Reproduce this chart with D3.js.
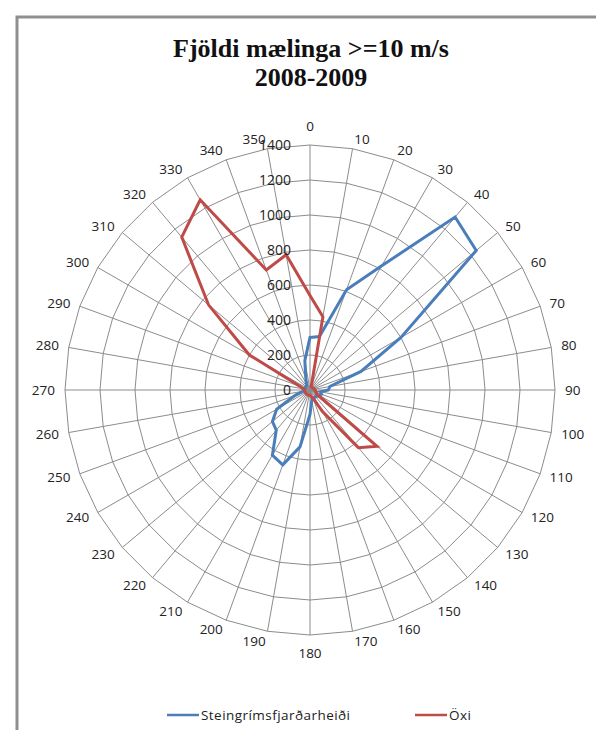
<!DOCTYPE html>
<html>
<head>
<meta charset="utf-8">
<script src="https://cdn.jsdelivr.net/npm/d3@7"></script>
<style>
  html, body { margin: 0; padding: 0; background: #fff; }
  svg { display: block; }
</style>
</head>
<body>
<svg id="chart" width="596" height="730"></svg>
<script>
// ---- data ----
const titleLines = ["Fjöldi mælinga >=10 m/s", "2008-2009"];
const directions = [0,10,20,30,40,50,60,70,80,90,100,110,120,130,140,150,160,170,
                    180,190,200,210,220,230,240,250,260,270,280,290,300,310,320,330,340,350];
const steingrimsValues = [300,310,610,820,1290,1240,600,310,115,105,60,70,60,55,50,50,50,60,
                          140,330,455,430,300,280,220,90,40,30,30,30,30,30,30,40,70,170];
const oxiValues = [540,425,20,20,20,20,20,25,25,30,30,40,40,500,430,140,50,40,
                   30,30,30,30,30,30,30,30,30,30,40,60,400,757,1140,1255,730,785];
const radialTicks = [0,200,400,600,800,1000,1200,1400];
const seriesNames = ["Steingrímsfjarðarheiði", "Öxi"];
const seriesColors = ["#4a7ebb", "#be4b48"];

// ---- layout ----
const svg = d3.select("#chart");
const cx = 310, cy = 390, R = 245;

// frame
svg.append("rect").attr("x", 17).attr("y", 17).attr("width", 620).attr("height", 740)
  .attr("fill", "none").attr("stroke", "#8f8f8f").attr("stroke-width", 3);

// title
svg.append("g").selectAll("text").data(titleLines).join("text")
  .attr("x", 311).attr("y", (d, i) => 57 + i * 29)
  .attr("text-anchor", "middle")
  .attr("font-family", "'Liberation Serif', 'Times New Roman', serif")
  .attr("font-weight", "bold").attr("font-size", 26).attr("fill", "#111")
  .text(d => d);

const r = d3.scaleLinear().domain([0, 1400]).range([0, R]);
const ang = d3.scaleLinear().domain([0, 360]).range([0, 2 * Math.PI]);

const g = svg.append("g").attr("transform", `translate(${cx},${cy})`);

// ring gridlines (polygons through spokes)
const ringLine = d3.lineRadial().angle(d => ang(d)).curve(d3.curveLinearClosed);
g.append("g").selectAll("path").data(radialTicks.filter(t => t > 0)).join("path")
  .attr("d", t => ringLine.radius(r(t))(directions))
  .attr("fill", "none").attr("stroke", "#8c8c8c").attr("stroke-width", 1);

// spokes
g.append("g").selectAll("line").data(directions).join("line")
  .attr("x1", 0).attr("y1", 0)
  .attr("x2", d => r(1400) * Math.sin(ang(d)))
  .attr("y2", d => -r(1400) * Math.cos(ang(d)))
  .attr("stroke", "#8c8c8c").attr("stroke-width", 1);

// angle labels: anchored at a point just outside the outer ring
const labR = R + 10;
g.append("g").selectAll("text").data(directions).join("text")
  .attr("x", d => labR * Math.sin(ang(d)))
  .attr("y", d => -labR * Math.cos(ang(d)))
  .attr("dy", d => d === 0 ? "-0.3em" : d === 180 ? "0.95em" : "0.35em")
  .attr("text-anchor", d => (d === 0 || d === 180) ? "middle" : d < 180 ? "start" : "end")
  .attr("font-family", "'Open Sans', 'DejaVu Sans', sans-serif")
  .attr("font-size", 13.5).attr("fill", "#222")
  .text(d => d);

// series
const seriesLine = d3.lineRadial()
  .angle((d, i) => ang(directions[i]))
  .radius(d => r(d))
  .curve(d3.curveLinearClosed);
[steingrimsValues, oxiValues].forEach((vals, k) => {
  g.append("path").attr("d", seriesLine(vals))
    .attr("fill", "none").attr("stroke", seriesColors[k])
    .attr("stroke-width", 3).attr("stroke-linejoin", "miter");
});

// radial tick labels
g.append("g").selectAll("text").data(radialTicks).join("text")
  .attr("x", -19).attr("y", t => -r(t))
  .attr("dy", "0.35em")
  .attr("text-anchor", "end")
  .attr("font-family", "'Open Sans', 'DejaVu Sans', sans-serif")
  .attr("font-size", 14).attr("fill", "#222")
  .text(t => t);

// legend
const legendX = [167, 415];
const leg = svg.append("g");
seriesNames.forEach((name, k) => {
  leg.append("line").attr("x1", legendX[k]).attr("x2", legendX[k] + 32)
    .attr("y1", 715).attr("y2", 715)
    .attr("stroke", seriesColors[k]).attr("stroke-width", 2.5);
  leg.append("text").attr("x", legendX[k] + 34).attr("y", 720)
    .attr("font-family", "'Open Sans', 'DejaVu Sans', sans-serif")
    .attr("font-size", 13.5).attr("letter-spacing", 0.45).attr("fill", "#222")
    .text(name);
});
</script>
</body>
</html>
